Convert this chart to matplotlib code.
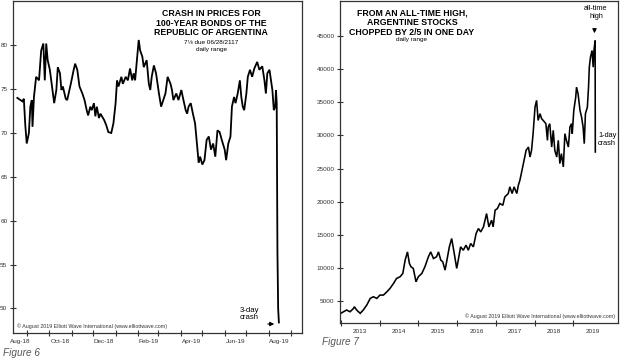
import matplotlib

matplotlib.use("Agg")
import matplotlib.pyplot as plt
import matplotlib.dates as mdates
import matplotlib.ticker as mticker
import pandas as pd

plt.rcParams["font.family"] = ["Liberation Sans", "DejaVu Sans"]

# --- Figure 6: 100-year Argentine bond, Aug-18 .. Aug-19 ---
bond_dates = [
    "2018-08-18", "2018-08-25", "2018-08-27", "2018-08-29", "2018-08-31", "2018-09-03",
    "2018-09-05", "2018-09-07", "2018-09-08", "2018-09-10", "2018-09-13", "2018-09-17",
    "2018-09-20", "2018-09-23", "2018-09-25", "2018-09-27", "2018-09-29", "2018-10-02",
    "2018-10-05", "2018-10-08", "2018-10-11", "2018-10-13", "2018-10-16", "2018-10-18",
    "2018-10-20", "2018-10-24", "2018-10-26", "2018-10-28", "2018-10-31", "2018-11-04",
    "2018-11-06", "2018-11-09", "2018-11-12", "2018-11-16", "2018-11-19", "2018-11-22",
    "2018-11-24", "2018-11-27", "2018-11-29", "2018-12-02", "2018-12-04", "2018-12-06",
    "2018-12-09", "2018-12-11", "2018-12-16", "2018-12-19", "2018-12-22", "2018-12-26",
    "2018-12-29", "2019-01-01", "2019-01-03", "2019-01-05", "2019-01-09", "2019-01-11",
    "2019-01-15", "2019-01-18", "2019-01-21", "2019-01-24", "2019-01-26", "2019-01-28",
    "2019-01-31", "2019-02-02", "2019-02-04", "2019-02-07", "2019-02-09", "2019-02-13",
    "2019-02-16", "2019-02-18", "2019-02-20", "2019-02-23", "2019-02-26", "2019-03-02",
    "2019-03-05", "2019-03-08", "2019-03-11", "2019-03-14", "2019-03-18", "2019-03-20",
    "2019-03-22", "2019-03-26", "2019-03-29", "2019-04-02", "2019-04-04", "2019-04-08",
    "2019-04-10", "2019-04-12", "2019-04-15", "2019-04-18", "2019-04-21", "2019-04-24",
    "2019-04-26", "2019-04-28", "2019-05-01", "2019-05-04", "2019-05-07", "2019-05-10",
    "2019-05-13", "2019-05-16", "2019-05-19", "2019-05-22", "2019-05-25", "2019-05-28",
    "2019-06-01", "2019-06-03", "2019-06-06", "2019-06-09", "2019-06-11", "2019-06-14",
    "2019-06-16", "2019-06-19", "2019-06-22", "2019-06-24", "2019-06-26", "2019-06-28",
    "2019-07-01", "2019-07-03", "2019-07-06", "2019-07-09", "2019-07-12", "2019-07-16",
    "2019-07-19", "2019-07-23", "2019-07-26", "2019-07-28", "2019-07-30", "2019-08-02",
    "2019-08-06", "2019-08-08", "2019-08-10", "2019-08-11", "2019-08-12", "2019-08-13",
    "2019-08-14", "2019-08-15",
]
bond_price = [
    74.0, 73.6, 73.9, 70.9, 68.8, 70.0,
    73.0, 73.75, 70.7, 74.1, 76.4, 76.0,
    79.4, 80.2, 76.0, 80.2, 78.3, 77.2,
    75.3, 73.4, 74.9, 77.5, 76.8, 74.9,
    75.3, 73.9, 73.75, 74.5, 75.6, 77.2,
    77.9, 77.2, 75.3, 74.5, 73.75, 72.6,
    72.0, 73.0, 72.6, 73.4, 71.9, 73.0,
    71.7, 72.2, 71.5, 70.9, 70.1, 70.0,
    71.1, 73.4, 76.0, 75.3, 76.4, 75.6,
    76.4, 76.0, 77.35, 76.0, 76.8, 76.0,
    78.7, 80.6, 79.4, 78.7, 77.5, 78.3,
    75.6, 74.9, 76.4, 77.7, 76.8, 74.5,
    73.0, 73.75, 74.5, 76.4, 75.6, 74.9,
    73.75, 74.5, 73.75, 74.9, 74.1, 72.6,
    72.2, 73.0, 73.4, 72.2, 71.1, 68.4,
    66.6, 67.3, 66.4, 66.9, 69.2, 69.6,
    68.1, 68.8, 67.3, 70.3, 70.1, 69.2,
    68.1, 66.9, 68.8, 69.6, 73.0, 74.1,
    73.4, 74.5, 76.0, 74.1, 73.0, 72.6,
    74.5, 76.4, 77.2, 76.4, 77.35, 78.1,
    77.2, 77.6, 76.0, 74.5, 76.8, 77.2,
    74.9, 72.6, 73.0, 74.9, 73.4, 56.5,
    50.0, 48.4,
]
bond_yticks = [50, 55, 60, 65, 70, 75, 80]
bond_labels = ["Aug-18", "Oct-18", "Dec-18", "Feb-19", "Apr-19", "Jun-19", "Aug-19"]
bond_label_dates = ["2018-08-22", "2018-10-16", "2018-12-16", "2019-02-15",
                    "2019-04-16", "2019-06-16", "2019-08-16"]

# --- Figure 7: Merval index, 2013 .. 2019 ---
merval_year = [
    2013.00, 2013.07, 2013.15, 2013.24, 2013.33, 2013.35, 2013.41, 2013.50, 2013.58,
    2013.67, 2013.76, 2013.84, 2013.93, 2014.01, 2014.10, 2014.19, 2014.27, 2014.36,
    2014.44, 2014.53, 2014.60, 2014.66, 2014.72, 2014.77, 2014.81, 2014.87, 2014.94,
    2015.00, 2015.09, 2015.17, 2015.26, 2015.32, 2015.39, 2015.47, 2015.52, 2015.58,
    2015.63, 2015.69, 2015.73, 2015.80, 2015.86, 2015.92, 2015.99, 2016.03, 2016.09,
    2016.16, 2016.23, 2016.29, 2016.35, 2016.42, 2016.49, 2016.55, 2016.61, 2016.68,
    2016.76, 2016.82, 2016.89, 2016.93, 2016.98, 2017.04, 2017.10, 2017.18, 2017.23,
    2017.32, 2017.36, 2017.42, 2017.47, 2017.54, 2017.58, 2017.62, 2017.71, 2017.78,
    2017.84, 2017.88, 2017.92, 2017.96, 2018.01, 2018.05, 2018.09, 2018.14, 2018.18,
    2018.22, 2018.29, 2018.33, 2018.35, 2018.39, 2018.44, 2018.48, 2018.52, 2018.57,
    2018.61, 2018.65, 2018.69, 2018.74, 2018.78, 2018.82, 2018.87, 2018.91, 2018.95,
    2018.97, 2019.01, 2019.06, 2019.08, 2019.12, 2019.17, 2019.21, 2019.25, 2019.28,
    2019.31, 2019.36, 2019.39, 2019.41, 2019.44, 2019.48, 2019.51, 2019.53, 2019.56,
    2019.565,
]
merval_value = [
    3110, 3350, 3610, 3350, 3860, 4110, 3610, 3110, 3610,
    4360, 5370, 5620, 5370, 5870, 5870, 6370, 6880, 7630,
    8390, 8640, 9140, 11150, 12400, 10660, 10150, 9900, 7880,
    8640, 9140, 10150, 11660, 12400, 11400, 11660, 12400, 11150,
    10900, 9640, 10900, 13160, 14420, 12400, 9900, 11150, 13160,
    12650, 13420, 12650, 13670, 13160, 15170, 15930, 15420, 16180,
    18190, 16180, 17190, 16180, 18700, 18950, 19710, 19450, 20700,
    21220, 22230, 21220, 22230, 21220, 22470, 23230, 25750, 27750,
    28250, 26740, 27750, 30270, 34290, 35300, 32280, 33290, 32530,
    32280, 31780, 29260, 31270, 31780, 28250, 30770, 27750, 26740,
    29260, 25750, 27250, 25240, 30270, 29260, 28250, 31270, 31780,
    30270, 33790, 35800, 37300, 36310, 33790, 32780, 31270, 28760,
    33290, 34290, 37300, 40320, 41830, 42840, 40320, 42840, 44350,
    27500,
]
merval_yticks = [5000, 10000, 15000, 20000, 25000, 30000, 35000, 40000, 45000]
merval_years = [2013, 2014, 2015, 2016, 2017, 2018, 2019]

W, H = 620, 361
fig = plt.figure(figsize=(W / 100, H / 100), dpi=100)


def fx(px):
    return px / W


def fy(py):
    return 1 - py / H


def style_axes(ax):
    for s in ax.spines.values():
        s.set_linewidth(0.9)
        s.set_color("#333333")
    ax.tick_params(axis="both", which="major", direction="inout", length=4,
                   width=0.8, color="#333333", labelsize=4.6, labelcolor="#333333", pad=2)


# left panel
ax1 = fig.add_axes([fx(13), fy(333), fx(302) - fx(13), fy(0.5) - fy(333)])
ax1.plot(pd.to_datetime(bond_dates), bond_price, color="black", lw=1.3,
         solid_joinstyle="miter")
ax1.set_ylim(47.2, 85.1)
ax1.set_xlim(pd.Timestamp("2018-08-12"), pd.Timestamp("2019-09-16"))
ax1.set_yticks(bond_yticks)
ax1.xaxis.set_major_locator(mdates.MonthLocator())
ax1.xaxis.set_major_formatter(mticker.NullFormatter())
ax1.xaxis.set_minor_locator(mticker.FixedLocator(mdates.date2num(pd.to_datetime(bond_label_dates))))
ax1.xaxis.set_minor_formatter(mticker.FixedFormatter(bond_labels))
ax1.tick_params(axis="x", which="minor", length=0, labelsize=4.6, labelcolor="#333333", pad=4)
style_axes(ax1)

fig.text(fx(211), fy(23), "CRASH IN PRICES FOR\n100-YEAR BONDS OF THE\nREPUBLIC OF ARGENTINA",
         ha="center", va="center", fontsize=6.3, fontweight="bold", linespacing=1.1)
fig.text(fx(211), fy(42), "7\u215b due 06/28/2117", ha="center", va="center", fontsize=4.6)
fig.text(fx(211), fy(50), "daily range", ha="center", va="center", fontsize=4.6)
fig.text(fx(240), fy(314), "3-day\ncrash", ha="left", va="center", fontsize=5.6, linespacing=1.05)
ax1.annotate("", xy=(fx(277), fy(324)), xytext=(fx(265), fy(324)),
             xycoords="figure fraction", textcoords="figure fraction",
             arrowprops=dict(arrowstyle="-|>", color="black", lw=0.8, mutation_scale=6))
fig.text(fx(17), fy(326), "\u00a9 August 2019 Elliott Wave International (www.elliottwave.com)",
         ha="left", va="center", fontsize=3.75, color="#333333")
fig.text(fx(3), fy(353), "Figure 6", ha="left", va="center", fontsize=7.2,
         style="italic", color="#555555")

# right panel
ax2 = fig.add_axes([fx(340), fy(323), fx(618) - fx(340), fy(0.5) - fy(323)])
ax2.plot(merval_year, merval_value, color="black", lw=1.15, solid_joinstyle="miter")
ax2.set_ylim(1650, 50400)
ax2.set_xlim(2012.98, 2020.15)
ax2.set_yticks(merval_yticks)
ax2.xaxis.set_major_locator(mticker.FixedLocator(merval_years))
ax2.xaxis.set_major_formatter(mticker.NullFormatter())
ax2.xaxis.set_minor_locator(mticker.FixedLocator([y + 0.5 for y in merval_years]))
ax2.xaxis.set_minor_formatter(mticker.FixedFormatter([str(y) for y in merval_years]))
ax2.tick_params(axis="x", which="minor", length=0, labelsize=4.6, labelcolor="#333333", pad=4)
style_axes(ax2)

fig.text(fx(412), fy(22.5), "FROM AN ALL-TIME HIGH,\nARGENTINE STOCKS\nCHOPPED BY 2/5 IN ONE DAY",
         ha="center", va="center", fontsize=6.3, fontweight="bold", linespacing=1.1)
fig.text(fx(412), fy(40), "daily range", ha="center", va="center", fontsize=4.6)
fig.text(fx(596), fy(12.5), "all-time\nhigh", ha="center", va="center", fontsize=5.3,
         linespacing=1.05)
ax2.annotate("", xy=(fx(594.5), fy(36)), xytext=(fx(594.5), fy(26)),
             xycoords="figure fraction", textcoords="figure fraction",
             arrowprops=dict(arrowstyle="-|>", color="black", lw=0.8, mutation_scale=6))
fig.text(fx(598), fy(139.5), "1-day\ncrash", ha="left", va="center", fontsize=5.3,
         linespacing=1.05)
fig.text(fx(615), fy(316), "\u00a9 August 2019 Elliott Wave International (www.elliottwave.com)",
         ha="right", va="center", fontsize=3.75, color="#333333")
fig.text(fx(322), fy(342), "Figure 7", ha="left", va="center", fontsize=7.2,
         style="italic", color="#555555")

fig.savefig("out.png", dpi=100)
